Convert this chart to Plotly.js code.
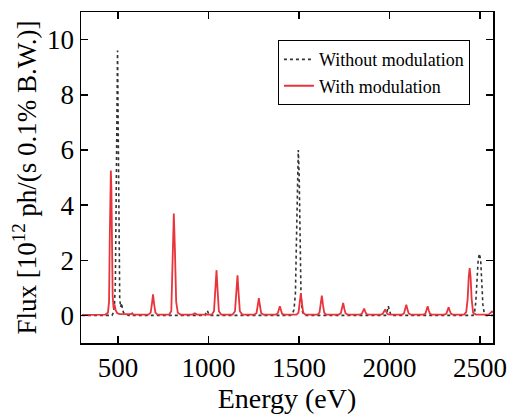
<!DOCTYPE html>
<html>
<head>
<meta charset="utf-8">
<script src="https://cdn.plot.ly/plotly-3.0.1.min.js"></script>
<style>html,body{margin:0;padding:0;background:#fff;}#chart{width:509px;height:416px;}</style>
</head>
<body>
<div id="chart"></div>
<script>
// Without modulation (dotted black): energy (eV), flux (1e12 ph/(s 0.1% B.W.))
const noModE = [300,466,474,480,485,489,493,497,501,505,509,514,519,524,530,545,560,980,987,993,999,1006,1452,1462,1472,1480,1486,1491,1496,1501,1506,1511,1518,1528,1978,1986,1993,2000,2008,2462,2470,2477,2483,2490,2497,2504,2510,2516,2523,2532,2575];
const noModF = [0.0,0.0,0.1,0.4,1.2,4.0,8.0,9.6,6.5,2.0,0.6,0.3,0.45,0.25,0.1,0.03,0.0,0.0,0.1,0.18,0.08,0.0,0.0,0.05,0.2,0.8,2.8,5.0,6.0,5.0,2.5,0.7,0.15,0.0,0.0,0.1,0.34,0.12,0.0,0.0,0.1,0.5,1.4,2.0,2.24,2.0,1.2,0.4,0.1,0.0,0.0];

// With modulation (solid red)
const modE = [300,430,444,450,454,457,460,463,466,470,475,480,486,495,510,560,572,578,584,668,680,687,693,699,706,718,782,794,801,808,814,821,830,845,912,924,936,1018,1030,1037,1044,1050,1057,1070,1133,1146,1153,1160,1166,1173,1186,1253,1265,1272,1278,1284,1291,1303,1370,1382,1388,1394,1400,1406,1418,1486,1497,1504,1510,1516,1523,1535,1602,1613,1620,1626,1632,1639,1650,1720,1731,1738,1744,1750,1757,1768,1836,1847,1854,1860,1866,1873,1884,1952,1963,1970,1976,1982,1989,2000,2069,2080,2087,2093,2099,2106,2117,2187,2198,2205,2211,2217,2224,2235,2303,2314,2321,2327,2333,2340,2351,2412,2424,2432,2438,2443,2448,2454,2462,2478,2548,2558,2566,2575];
const modF = [0.02,0.03,0.1,0.5,2.8,4.0,5.25,4.6,2.4,0.7,0.25,0.4,0.2,0.08,0.05,0.03,0.05,0.08,0.03,0.03,0.1,0.42,0.76,0.42,0.1,0.03,0.03,0.15,1.9,3.69,2.4,0.5,0.1,0.03,0.03,0.08,0.03,0.03,0.15,0.9,1.64,0.9,0.15,0.03,0.03,0.15,0.8,1.45,0.8,0.15,0.03,0.03,0.08,0.35,0.63,0.35,0.08,0.03,0.03,0.07,0.2,0.33,0.2,0.06,0.03,0.03,0.1,0.45,0.8,0.45,0.1,0.03,0.03,0.1,0.4,0.72,0.4,0.1,0.03,0.03,0.08,0.25,0.45,0.25,0.08,0.03,0.03,0.06,0.14,0.25,0.14,0.05,0.03,0.03,0.06,0.13,0.22,0.13,0.05,0.03,0.03,0.07,0.22,0.39,0.22,0.07,0.03,0.03,0.06,0.18,0.33,0.18,0.06,0.03,0.03,0.06,0.17,0.30,0.17,0.06,0.03,0.03,0.12,0.6,1.4,1.72,1.4,0.6,0.1,0.03,0.03,0.1,0.14,0.12];

const seriesNames = ['Without modulation', 'With modulation'];
const xTicks = [500,1000,1500,2000,2500];
const yTicks = [0,2,4,6,8,10];

const serif = 'Liberation Serif';

const traces = [
  {x: noModE, y: noModF, name: seriesNames[0], type: 'scatter', mode: 'lines',
   line: {color: '#333333', width: 1.6, dash: 'dot'}},
  {x: modE, y: modF, name: seriesNames[1], type: 'scatter', mode: 'lines',
   line: {color: '#e8343a', width: 1.8}}
];

const axisCommon = {
  showgrid: false, zeroline: false, showline: true, linecolor: '#000', linewidth: 1.5,
  mirror: 'ticks', ticks: 'inside', ticklen: 7, tickwidth: 1.5, tickcolor: '#000',
  tickfont: {family: serif, size: 27, color: '#000'}
};

const layout = {
  width: 509, height: 416,
  font: {family: serif, color: '#000'},
  margin: {l: 81, r: 16, t: 12, b: 73},
  paper_bgcolor: '#fff', plot_bgcolor: '#fff',
  showlegend: true,
  legend: {x: 0.478, y: 0.915, xanchor: 'left', yanchor: 'top',
           bordercolor: '#000', borderwidth: 1, bgcolor: '#fff',
           font: {family: serif, size: 18, color: '#000'}, tracegroupgap: 0},
  xaxis: Object.assign({}, axisCommon, {
    range: [295, 2572], tickvals: xTicks, ticktext: xTicks.map(String),
    title: {text: 'Energy (eV)', font: {family: serif, size: 28, color: '#000'}, standoff: 4}
  }),
  yaxis: Object.assign({}, axisCommon, {
    range: [-1, 11], tickvals: yTicks, ticktext: yTicks.map(String),
    title: {text: 'Flux [10<sup>12</sup> ph/(s 0.1% B.W.)]', font: {family: serif, size: 27, color: '#000'}, standoff: 2}
  })
};

Plotly.newPlot('chart', traces, layout, {displayModeBar: false, staticPlot: true});
</script>
</body>
</html>
